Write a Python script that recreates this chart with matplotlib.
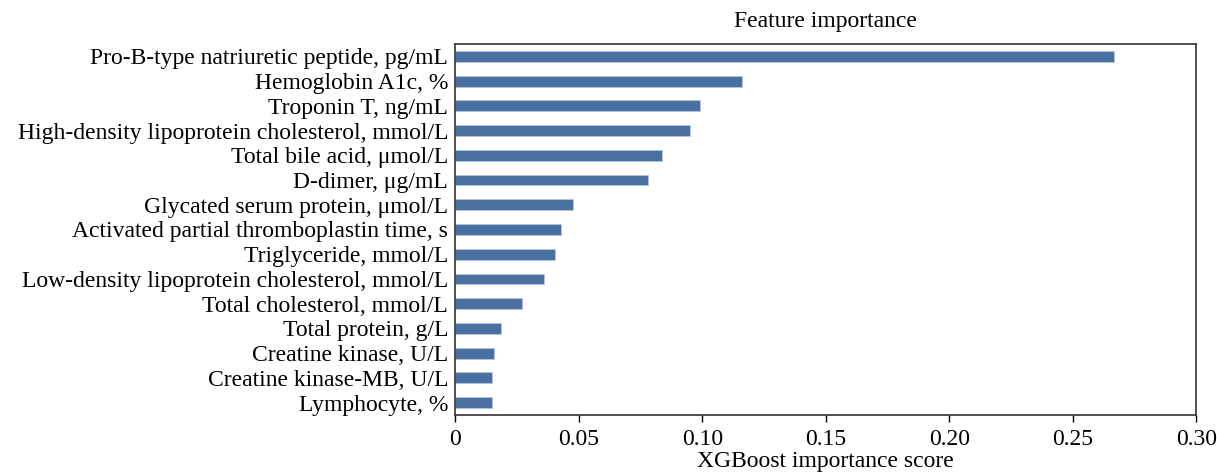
import matplotlib
matplotlib.use("Agg")
import matplotlib.pyplot as plt
from matplotlib.ticker import FixedLocator, FixedFormatter

# feature names, top to bottom as in the picture
features = [
    "Pro-B-type natriuretic peptide, pg/mL",
    "Hemoglobin A1c, %",
    "Troponin T, ng/mL",
    "High-density lipoprotein cholesterol, mmol/L",
    "Total bile acid, \u03bcmol/L",
    "D-dimer, \u03bcg/mL",
    "Glycated serum protein, \u03bcmol/L",
    "Activated partial thromboplastin time, s",
    "Triglyceride, mmol/L",
    "Low-density lipoprotein cholesterol, mmol/L",
    "Total cholesterol, mmol/L",
    "Total protein, g/L",
    "Creatine kinase, U/L",
    "Creatine kinase-MB, U/L",
    "Lymphocyte, %",
]
scores = [0.2667, 0.1162, 0.0992, 0.0951, 0.0838, 0.0780, 0.0478, 0.0428,
          0.0406, 0.0359, 0.0271, 0.0184, 0.0159, 0.0148, 0.0148]

xticks = [0, 0.05, 0.10, 0.15, 0.20, 0.25, 0.30]
xticklabels = ["0", "0.05", "0.10", "0.15", "0.20", "0.25", "0.30"]

plt.rcParams['font.family'] = ['Liberation Serif', 'DejaVu Serif']

fig = plt.figure(figsize=(12.17, 4.73), dpi=100)
ax = fig.add_axes([0.374, 0.1226, 0.609, 0.7844])

pos = list(range(len(features)))
ax.barh(pos, scores, height=0.44, color='#4a70a2', edgecolor='#b8c6da', linewidth=0.6)

ax.set_ylim(len(features) - 0.5, -0.5)
ax.set_xlim(0, 0.30)
ax.set_yticks(pos)
ax.set_yticklabels(features, fontsize=17)
ax.tick_params(axis='y', length=0, pad=5)
ax.xaxis.set_major_locator(FixedLocator(xticks))
ax.xaxis.set_major_formatter(FixedFormatter(xticklabels))
ax.tick_params(axis='x', labelsize=17, length=5, width=1, pad=5, direction='out')

for s in ax.spines.values():
    s.set_color('#333333')
    s.set_linewidth(1.2)

ax.set_title("Feature importance", fontsize=17, pad=12)
ax.set_xlabel("XGBoost importance score", fontsize=17, labelpad=1)

fig.savefig("out.png", dpi=100)
